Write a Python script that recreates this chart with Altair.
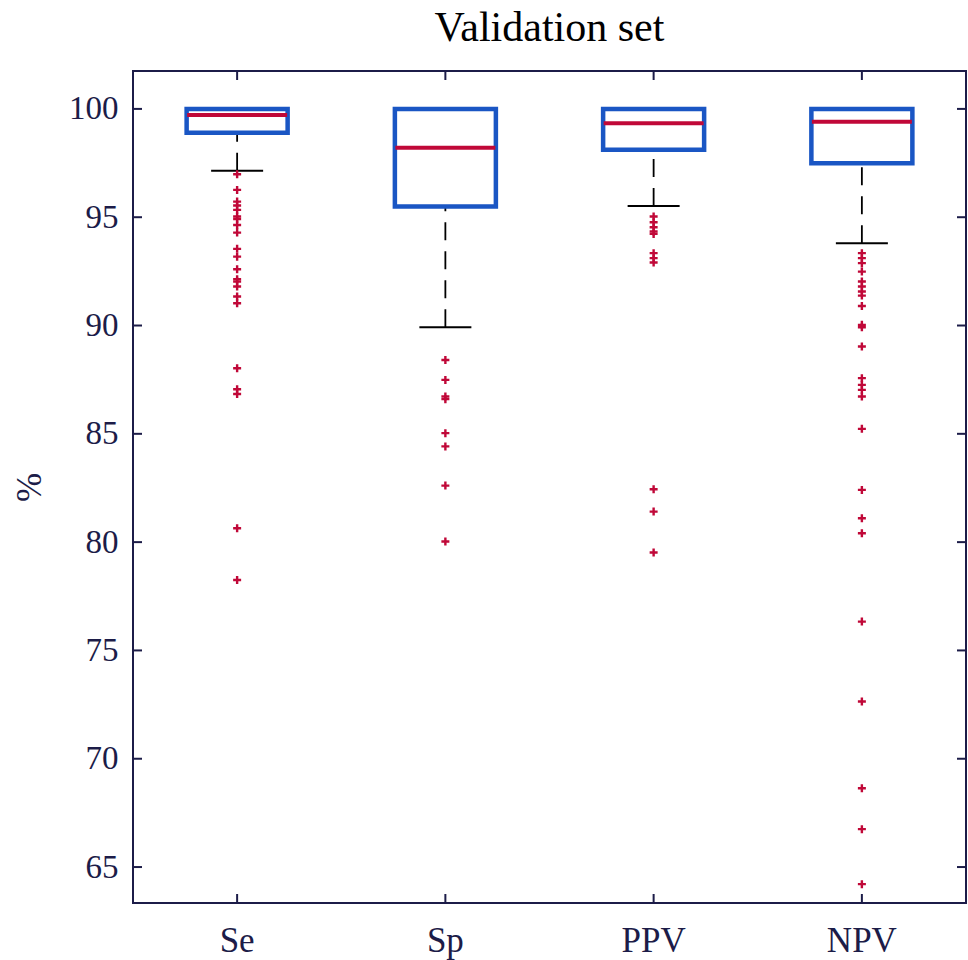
import altair as alt
import pandas as pd

categories = ["Se", "Sp", "PPV", "NPV"]
q3 = [100.0, 100.0, 100.0, 100.0]
median = [99.72, 98.21, 99.34, 99.41]
q1 = [98.9, 95.49, 98.11, 97.49]
whisker_lo = [97.14, 89.92, 95.52, 93.8]

se_out = [96.98, 96.26, 95.72, 95.54, 95.34, 95.03, 94.92, 94.64, 94.29, 93.54,
          93.18, 92.6, 92.14, 92.03, 91.8, 91.34, 91.03, 88.03, 87.06, 86.84,
          80.64, 78.25]
sp_out = [88.41, 87.49, 86.72, 86.6, 85.03, 84.42, 82.61, 80.03]
ppv_out = [95.03, 94.77, 94.54, 94.34, 94.23, 93.34, 93.11, 92.91, 82.44, 81.41, 79.52]
npv_out = [93.34, 93.11, 92.88, 92.49, 92.03, 91.8, 91.57, 91.38, 90.9, 90.03,
           89.92, 89.03, 87.57, 87.26, 87.03, 86.72, 85.23, 82.41, 81.1, 80.41,
           76.33, 72.64, 68.64, 66.75, 64.21]

y_ticks = [65, 70, 75, 80, 85, 90, 95, 100]
y_domain = [63.34, 101.75]

box_df = pd.DataFrame({"cat": categories, "q1": q1, "median": median, "q3": q3, "lo": whisker_lo})
rows = []
for c, vals in zip(categories, [se_out, sp_out, ppv_out, npv_out]):
    for v in vals:
        rows.append({"cat": c, "value": v})
out_df = pd.DataFrame(rows)
tick_df = pd.DataFrame({"value": y_ticks})
cat_df = pd.DataFrame({"cat": categories})

W, H = 833, 832
NAVY = "#1c1c48"
BLUE = "#1a56c4"
RED = "#c00838"
FONT = "Liberation Serif"
TL = 9

xs = alt.Scale(domain=categories, paddingInner=0, paddingOuter=0)
ys = alt.Scale(domain=y_domain, nice=False, zero=False)

x_axis = alt.Axis(title=None, labelAngle=0, labelFont=FONT, labelFontSize=35,
                  labelColor=NAVY, labelPadding=20, tickSize=0, domain=False, grid=False)
y_axis = alt.Axis(title="%", values=y_ticks, labelFont=FONT, labelFontSize=33,
                  labelColor=NAVY, labelPadding=15, tickSize=0, domain=False, grid=False,
                  titleFont=FONT, titleFontSize=35, titleFontWeight="normal",
                  titleColor=NAVY, titlePadding=21)


def X():
    return alt.X("cat:N", scale=xs, sort=categories, axis=x_axis)


def Y(field):
    return alt.Y(f"{field}:Q", scale=ys, axis=y_axis)


whisker = alt.Chart(box_df).mark_rule(color="black", strokeWidth=1.8, strokeDash=[18, 11],
                                      opacity=1).encode(x=X(), y=Y("lo"), y2="q1")
cap = alt.Chart(box_df).mark_tick(color="black", size=52, thickness=2, opacity=1).encode(
    x=X(), y=Y("lo"))
box = alt.Chart(box_df).mark_bar(size=101, fill="white", stroke=BLUE, strokeWidth=4.5,
                                 opacity=1).encode(x=X(), y=Y("q3"), y2="q1")
med = alt.Chart(box_df).mark_tick(color=RED, size=100, thickness=4, opacity=1).encode(
    x=X(), y=Y("median"))
outl = alt.Chart(out_df).mark_point(shape="M-1,0H1M0,-1V1", filled=False, stroke=RED,
                                    strokeWidth=2.4, size=64, opacity=1).encode(
    x=X(), y=Y("value"))

left_t = alt.Chart(tick_df).mark_rule(color=NAVY, strokeWidth=2).encode(
    y=Y("value"), x=alt.value(0), x2=alt.value(TL))
right_t = alt.Chart(tick_df).mark_rule(color=NAVY, strokeWidth=2).encode(
    y=Y("value"), x=alt.value(W - TL), x2=alt.value(W))
bot_t = alt.Chart(cat_df).mark_rule(color=NAVY, strokeWidth=2).encode(
    x=X(), y=alt.value(H), y2=alt.value(H - TL))
top_t = alt.Chart(cat_df).mark_rule(color=NAVY, strokeWidth=2).encode(
    x=X(), y=alt.value(0), y2=alt.value(TL))

chart = alt.layer(whisker, cap, box, med, outl, left_t, right_t, bot_t, top_t).properties(
    width=W, height=H,
    title=alt.TitleParams("Validation set", font=FONT, fontSize=42, fontWeight="normal",
                          color="black", anchor="middle", frame="group", offset=20),
    autosize=alt.AutoSizeParams(type="none"),
    padding={"left": 133, "top": 71, "right": 2, "bottom": 57},
    background="white",
).configure_view(stroke=NAVY, strokeWidth=2)

chart.save("out.html", embed_options={"renderer": "svg", "actions": False})
